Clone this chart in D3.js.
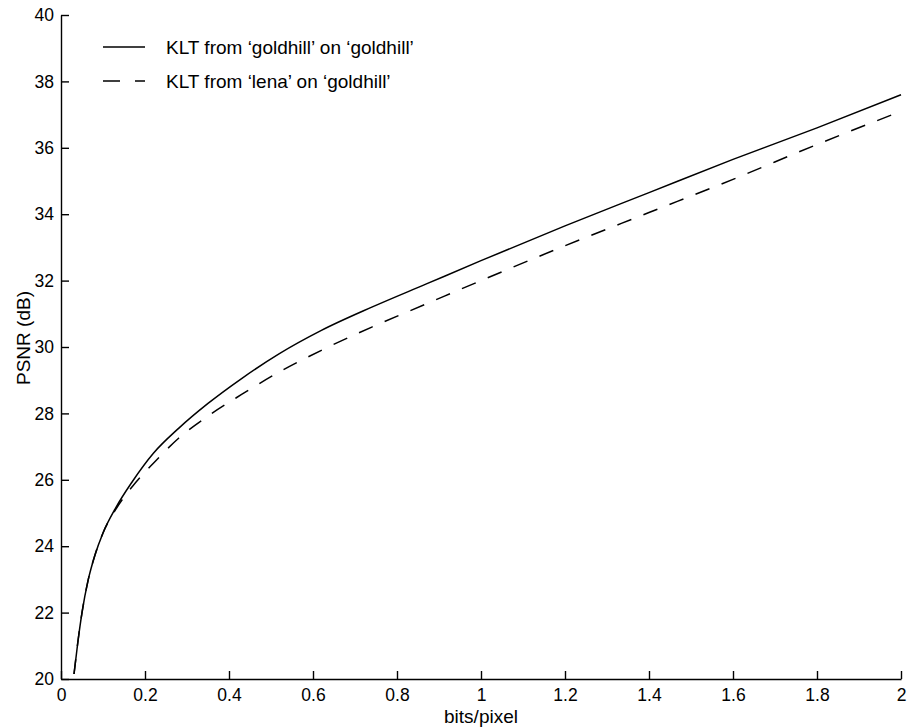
<!DOCTYPE html>
<html>
<head>
<meta charset="utf-8">
<script src="https://cdn.jsdelivr.net/npm/d3@7"></script>
<style>
  body { margin: 0; background: #fff; }
  svg { display: block; font-family: "Liberation Sans", Arial, sans-serif; }
  .axis path, .axis line { stroke: #000; stroke-width: 1.4px; }
  .axis text { font-size: 17.5px; fill: #000; }
</style>
</head>
<body>
<svg width="909" height="728"></svg>
<script>
"use strict";

// bits/pixel sample points
var rateGold = [0.031, 0.04, 0.05, 0.065, 0.08, 0.1, 0.13, 0.17, 0.22, 0.28, 0.35, 0.43, 0.52, 0.62, 0.74, 0.87, 1.0, 1.2, 1.4, 1.6, 1.8, 2.0];
var psnrGold = [20.15, 21.1, 22.0, 23.0, 23.7, 24.4, 25.15, 25.95, 26.8, 27.55, 28.3, 29.05, 29.8, 30.5, 31.2, 31.9, 32.6, 33.65, 34.65, 35.65, 36.6, 37.6];

var rateLena = [0.031, 0.04, 0.05, 0.065, 0.08, 0.1, 0.13, 0.17, 0.22, 0.28, 0.35, 0.43, 0.52, 0.62, 0.74, 0.87, 1.0, 1.2, 1.4, 1.6, 1.8, 2.0];
var psnrLena = [20.15, 21.1, 22.0, 23.0, 23.7, 24.4, 25.1, 25.8, 26.5, 27.25, 27.92, 28.57, 29.25, 29.9, 30.6, 31.3, 32.0, 33.05, 34.05, 35.05, 36.1, 37.1];

var xTicks = [0, 0.2, 0.4, 0.6, 0.8, 1, 1.2, 1.4, 1.6, 1.8, 2];
var yTicks = [20, 22, 24, 26, 28, 30, 32, 34, 36, 38, 40];

var seriesNames = ["KLT from \u2018goldhill\u2019 on \u2018goldhill\u2019", "KLT from \u2018lena\u2019 on \u2018goldhill\u2019"];

var svg = d3.select("svg"),
    margin = { top: 15, right: 8, bottom: 49, left: 61 },
    width = +svg.attr("width") - margin.left - margin.right,
    height = +svg.attr("height") - margin.top - margin.bottom;

var x = d3.scaleLinear().domain([0, 2]).range([0, width]),
    y = d3.scaleLinear().domain([20, 40]).range([height, 0]);

var g = svg.append("g")
    .attr("transform", "translate(" + margin.left + "," + margin.top + ")");

g.append("g")
    .attr("class", "axis axis--x")
    .attr("transform", "translate(0," + height + ")")
    .call(d3.axisBottom(x).tickValues(xTicks).tickFormat(function (d) { return String(d); })
        .tickSize(-8).tickSizeOuter(0).tickPadding(10));

g.append("g")
    .attr("class", "axis axis--y")
    .call(d3.axisLeft(y).tickValues(yTicks).tickFormat(function (d) { return String(d); })
        .tickSize(-8).tickSizeOuter(0).tickPadding(7));

var line = d3.line()
    .x(function (d) { return x(d[0]); })
    .y(function (d) { return y(d[1]); })
    .curve(d3.curveMonotoneX);

g.append("path")
    .datum(d3.zip(rateGold, psnrGold))
    .attr("fill", "none")
    .attr("stroke", "#000")
    .attr("stroke-width", 1.5)
    .attr("d", line);

g.append("path")
    .datum(d3.zip(rateLena, psnrLena))
    .attr("fill", "none")
    .attr("stroke", "#000")
    .attr("stroke-width", 1.5)
    .attr("stroke-dasharray", "15,13")
    .attr("d", line);

// axis labels
svg.append("text")
    .attr("x", margin.left + width / 2)
    .attr("y", 723)
    .attr("text-anchor", "middle")
    .style("font-size", "19px")
    .text("bits/pixel");

svg.append("text")
    .attr("transform", "translate(30,338) rotate(-90)")
    .attr("text-anchor", "middle")
    .style("font-size", "19px")
    .text("PSNR (dB)");

// legend
var legend = svg.append("g").attr("transform", "translate(103,47)");
seriesNames.forEach(function (name, i) {
    var row = legend.append("g").attr("transform", "translate(0," + (i * 34) + ")");
    row.append("line")
        .attr("x1", 0).attr("x2", 42)
        .attr("stroke", "#000")
        .attr("stroke-width", 1.5)
        .attr("stroke-dasharray", i === 1 ? "17,15" : null);
    row.append("text")
        .attr("x", 63)
        .attr("y", 7)
        .style("font-size", "19px")
        .text(name);
});
</script>
</body>
</html>
